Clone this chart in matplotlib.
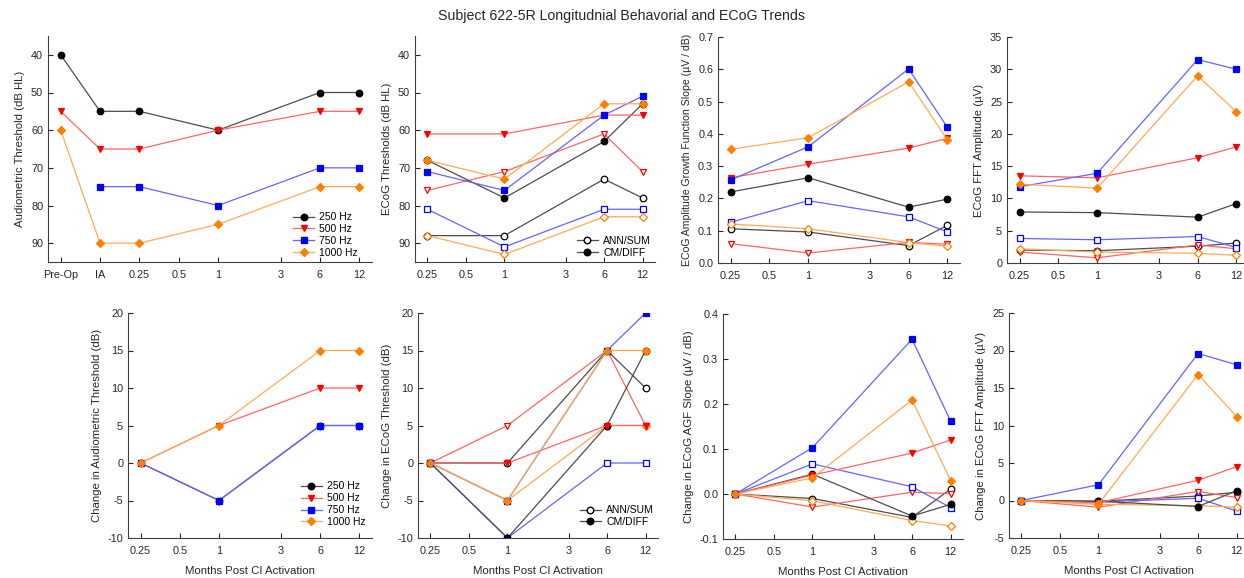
import numpy as np
import matplotlib
matplotlib.use('Agg')
import matplotlib.pyplot as plt
from matplotlib.lines import Line2D
from matplotlib.ticker import FixedLocator, NullLocator, FormatStrFormatter

plt.rcParams['font.family'] = ['Liberation Sans', 'DejaVu Sans']
plt.rcParams['axes.unicode_minus'] = False

W, H = 1244, 578

# ---- data ----
freqs = ['250 Hz', '500 Hz', '750 Hz', '1000 Hz']
colors = ['#000000', '#ff0000', '#0000ff', '#ff8000']
line_colors = ['#4d4d4d', '#ff6464', '#6464ff', '#ffaa55']
markers = ['o', 'v', 's', 'D']
msizes = [4.7, 4.6, 4.4, 4.2]

aud_x = [0.0625, 0.125, 0.25, 1, 6, 12]
aud_ticks = [0.0625, 0.125, 0.25, 0.5, 1, 3, 6, 12]
aud_ticklabels = ['Pre-Op', 'IA', '0.25', '0.5', '1', '3', '6', '12']
months = [0.25, 1, 6, 12]
month_ticks = [0.25, 0.5, 1, 3, 6, 12]
month_ticklabels = ['0.25', '0.5', '1', '3', '6', '12']

# audiometric thresholds (dB HL): 250, 500, 750, 1000 Hz
aud_thr = [[40, 55, 55, 60, 50, 50],
           [55, 65, 65, 60, 55, 55],
           [np.nan, 75, 75, 80, 70, 70],
           [60, 90, 90, 85, 75, 75]]
aud_change = [[0, -5, 5, 5],
              [0, 5, 10, 10],
              [0, -5, 5, 5],
              [0, 5, 15, 15]]

# ECoG thresholds (dB HL)
ecog_thr_ann = [[88, 88, 73, 78],
                [76, 71, 61, 71],
                [81, 91, 81, 81],
                [88, 93, 83, 83]]
ecog_thr_cm = [[68, 78, 63, 53],
               [61, 61, 56, 56],
               [71, 76, 56, 51],
               [68, 73, 53, 53]]
ecog_thr_change_ann = [[0, 0, 15, 10],
                       [0, 5, 15, 5],
                       [0, -10, 0, 0],
                       [0, -5, 5, 5]]
ecog_thr_change_cm = [[0, -10, 5, 15],
                      [0, 0, 5, 5],
                      [0, -5, 15, 20],
                      [0, -5, 15, 15]]

# AGF slope (uV / dB)
agf_ann = [[0.106, 0.096, 0.054, 0.117],
           [0.060, 0.031, 0.064, 0.058],
           [0.126, 0.193, 0.143, 0.096],
           [0.121, 0.106, 0.063, 0.052]]
agf_cm = [[0.220, 0.264, 0.173, 0.198],
          [0.264, 0.306, 0.356, 0.386],
          [0.257, 0.360, 0.601, 0.420],
          [0.352, 0.388, 0.561, 0.381]]
agf_change_ann = [[0, -0.010, -0.052, 0.011],
                  [0, -0.029, 0.004, 0.001],
                  [0, 0.067, 0.016, -0.030],
                  [0, -0.015, -0.059, -0.071]]
agf_change_cm = [[0, 0.044, -0.049, -0.023],
                 [0, 0.042, 0.091, 0.120],
                 [0, 0.103, 0.344, 0.162],
                 [0, 0.036, 0.209, 0.030]]

# FFT amplitude (uV)
fft_ann = [[2.0, 1.9, 2.6, 3.1],
           [1.7, 0.8, 2.8, 2.2],
           [3.8, 3.6, 4.1, 2.4],
           [2.2, 1.7, 1.5, 1.2]]
fft_cm = [[7.9, 7.8, 7.1, 9.2],
          [13.5, 13.2, 16.3, 18.0],
          [11.8, 13.9, 31.5, 30.0],
          [12.2, 11.6, 29.0, 23.4]]
fft_change_ann = [[0, -0.1, 0.6, 1.1],
                  [0, -0.9, 1.2, 0.4],
                  [0, -0.2, 0.3, -1.4],
                  [0, -0.5, -0.7, -0.9]]
fft_change_cm = [[0, -0.1, -0.8, 1.3],
                 [0, -0.3, 2.7, 4.5],
                 [0, 2.1, 19.6, 18.1],
                 [0, -0.5, 16.8, 11.2]]

TXT = '#262626'
FS = 7.8


def add_axes(x0, y0, x1, y1):
    return fig.add_axes([x0 / W, 1 - y1 / H, (x1 - x0) / W, (y1 - y0) / H])


def setup(ax, xlim, ylim, yticks, xticks, xticklabels, ylabel, fmt=None, lfs=8.2):
    ax.set_xscale('log')
    ax.set_xlim(xlim)
    ax.set_ylim(ylim)
    ax.xaxis.set_major_locator(FixedLocator(xticks))
    ax.xaxis.set_minor_locator(NullLocator())
    ax.set_xticklabels(xticklabels)
    ax.set_yticks(yticks)
    ax.yaxis.set_minor_locator(NullLocator())
    if fmt:
        ax.yaxis.set_major_formatter(FormatStrFormatter(fmt))
    ax.tick_params(direction='in', length=3.5, width=0.8, labelsize=FS,
                   colors=TXT)
    ax.tick_params(axis='x', pad=6)
    ax.tick_params(axis='y', pad=3.5)
    for s in ['top', 'right']:
        ax.spines[s].set_visible(False)
    for s in ['left', 'bottom']:
        ax.spines[s].set_color('#404040')
        ax.spines[s].set_linewidth(0.8)
    ax.set_ylabel(ylabel, fontsize=lfs, color=TXT)


def draw(ax, x, series, hollow=False):
    for c, lc, m, ms, y in zip(colors, line_colors, markers, msizes, series):
        ax.plot(x, y, '-', color=lc, lw=0.9)
        ax.plot(x, y, m, ls='none', mec=c, mfc='white' if hollow else c,
                ms=ms, mew=0.9)


def freq_legend(ax, anchor):
    hs = [Line2D([], [], color=lc, lw=0.9, marker=m, ms=ms, mfc=c, mec=c)
          for c, lc, m, ms in zip(colors, line_colors, markers, msizes)]
    ax.legend(hs, freqs, loc='lower right', bbox_to_anchor=anchor,
              frameon=False, fontsize=7.5, handlelength=2.0,
              handletextpad=0.5, labelspacing=0.18, borderaxespad=0)


def type_legend(ax, anchor):
    hs = [Line2D([], [], color='#4d4d4d', lw=0.9, marker='o', ms=4.7,
                 mfc='white', mec='k'),
          Line2D([], [], color='#4d4d4d', lw=0.9, marker='o', ms=4.7,
                 mfc='k', mec='k')]
    ax.legend(hs, ['ANN/SUM', 'CM/DIFF'], loc='lower right', bbox_to_anchor=anchor,
              frameon=False, fontsize=7.5, handlelength=2.0,
              handletextpad=0.5, labelspacing=0.18, borderaxespad=0)


fig = plt.figure(figsize=(W / 100, H / 100), dpi=100)
fig.text(0.5, 1 - 16 / H, 'Subject 622-5R Longitudnial Behavorial and ECoG Trends',
         ha='center', va='center', fontsize=10.2, color=TXT)

# top row
ax1 = add_axes(48, 36, 372, 262)
setup(ax1, (0.05, 15), (95, 35), range(40, 91, 10), aud_ticks, aud_ticklabels,
      'Audiometric Threshold (dB HL)')
draw(ax1, aud_x, aud_thr)
freq_legend(ax1, (0.97, 0.0))

ax2 = add_axes(415, 36, 655, 262)
setup(ax2, (0.2, 15), (95, 35), range(40, 91, 10), month_ticks, month_ticklabels,
      'ECoG Thresholds (dB HL)')
draw(ax2, months, ecog_thr_ann, hollow=True)
draw(ax2, months, ecog_thr_cm)
type_legend(ax2, (1.0, 0.0))

ax3 = add_axes(718, 37, 960, 263)
setup(ax3, (0.2, 15), (0, 0.7), np.arange(0, 0.71, 0.1), month_ticks, month_ticklabels,
      'ECoG Amplitude Growth Function Slope (\u00b5V / dB)', fmt='%.1f', lfs=7.6)
draw(ax3, months, agf_ann, hollow=True)
draw(ax3, months, agf_cm)

ax4 = add_axes(1007, 37, 1249, 263)
setup(ax4, (0.2, 15), (0, 35), range(0, 36, 5), month_ticks, month_ticklabels,
      'ECoG FFT Amplitude (\u00b5V)')
draw(ax4, months, fft_ann, hollow=True)
draw(ax4, months, fft_cm)

# bottom row
ax5 = add_axes(128, 313, 372, 538)
setup(ax5, (0.2, 15), (-10, 20), range(-10, 21, 5), month_ticks, month_ticklabels,
      'Change in Audiometric Threshold (dB)')
draw(ax5, months, aud_change)
freq_legend(ax5, (0.99, 0.03))

ax6 = add_axes(418, 313, 658, 538)
setup(ax6, (0.2, 15), (-10, 20), range(-10, 21, 5), month_ticks, month_ticklabels,
      'Change in ECoG Threshold (dB)')
draw(ax6, months, ecog_thr_change_ann, hollow=True)
draw(ax6, months, ecog_thr_change_cm)
type_legend(ax6, (1.0, 0.03))

ax7 = add_axes(723, 314, 963, 539)
setup(ax7, (0.2, 15), (-0.1, 0.4), np.arange(-0.1, 0.41, 0.1), month_ticks,
      month_ticklabels, 'Change in ECoG AGF Slope (\u00b5V / dB)', fmt='%.1f')
draw(ax7, months, agf_change_ann, hollow=True)
draw(ax7, months, agf_change_cm)

ax8 = add_axes(1009, 313, 1249, 538)
setup(ax8, (0.2, 15), (-5, 25), range(-5, 26, 5), month_ticks, month_ticklabels,
      'Change in ECoG FFT Amplitude (\u00b5V)')
draw(ax8, months, fft_change_ann, hollow=True)
draw(ax8, months, fft_change_cm)

for ax in [ax5, ax6, ax7, ax8]:
    ax.set_xlabel('Months Post CI Activation', fontsize=8.2, color=TXT, labelpad=7)

fig.savefig('out.png', dpi=100)
